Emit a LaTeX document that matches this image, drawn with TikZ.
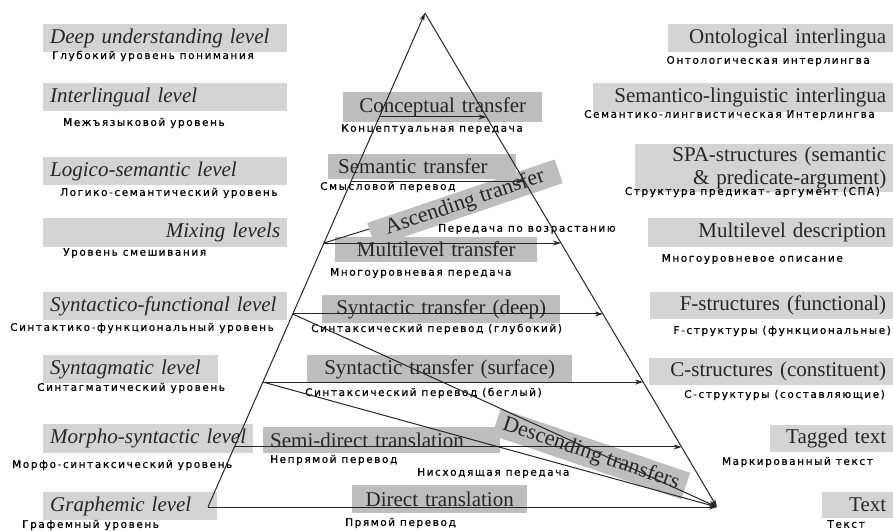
\documentclass[tikz,border=0pt]{standalone}
\usepackage{fontspec}
\setmainfont{Liberation Serif}
\newfontfamily\rufont[LetterSpace=15,FakeBold=0.6]{DejaVu Sans}
\usetikzlibrary{arrows.meta,calc}
\definecolor{lgray}{RGB}{212,212,212}
\definecolor{mgray}{RGB}{190,190,190}
\definecolor{ink}{RGB}{38,38,38}
\begin{document}
\begin{tikzpicture}[x=1pt,y=-1pt,
  en/.style={font=\fontsize{21}{22}\selectfont, text=ink, inner ysep=0pt, inner xsep=7pt, anchor=north west},
  lbox/.style={en, fill=lgray, font=\fontsize{21}{22}\selectfont\itshape},
  rbox/.style={en, fill=lgray, align=right},
  mbox/.style={en, fill=mgray},
  tbox/.style={en, anchor=center, fill=mgray, font=\fontsize{22}{23}\selectfont, inner xsep=4pt},
  ru/.style={font=\rufont\fontsize{10.5}{11}\selectfont, text=black, inner sep=0pt},
  ln/.style={draw=ink, line width=1pt},
  arr/.style={ln, -{Stealth[length=8pt,width=5pt]}}
]
\useasboundingbox (0,0) rectangle (893,530);

% ---------- left column ----------
\node[lbox, minimum width=244, minimum height=28, text width=230, align=left] (deep) at (43,24) {Deep understanding level};
\node[lbox, minimum width=244, minimum height=28, text width=230, align=left] (inter) at (43,83) {Interlingual level};
\node[lbox, minimum width=244, minimum height=28, text width=230, align=left] (logico) at (43,157) {Logico-semantic level};
\node[lbox, minimum width=244, minimum height=29, text width=230, align=right] (mixing) at (43,218) {Mixing levels};
\node[lbox, minimum width=244, minimum height=28, text width=230, align=left] (synfun) at (43,292) {Syntactico-functional level};
\node[lbox, minimum width=175, minimum height=28, text width=161, align=left] (syntag) at (43,355) {Syntagmatic level};
\node[lbox, minimum width=210, minimum height=29, text width=196, align=left] (morpho) at (43,424) {Morpho-syntactic level};
\node[lbox, minimum width=174, minimum height=28, text width=160, align=left] (graph) at (43,492) {Graphemic level};

\node[ru, anchor=west] (deepru) at (52,56) {Глубокий уровень понимания};
\node[ru, anchor=west] (interru) at (63,123) {Межъязыковой уровень};
\node[ru, anchor=west] (logicoru) at (60,193) {Логико-семантический уровень};
\node[ru, anchor=west] (mixingru) at (63,253) {Уровень смешивания};
\node[ru, anchor=west] (synfunru) at (10,328) {Синтактико-функциональный уровень};
\node[ru, anchor=west] (syntagru) at (37,388) {Синтагматический уровень};
\node[ru, anchor=west] (morphoru) at (12,465) {Морфо-синтаксический уровень};
\node[ru, anchor=west] (graphru) at (22,525) {Графемный уровень};

% ---------- right column ----------
\node[rbox, minimum width=225, minimum height=28, text width=211] (onto) at (668,24) {Ontological interlingua};
\node[rbox, minimum width=300, minimum height=29, text width=286] (semling) at (593,83) {Semantico-linguistic interlingua};
\node[rbox, minimum width=258, minimum height=48, text width=244] (spa) at (635,144) {SPA-structures (semantic\\[1pt] \& predicate-argument)};
\node[rbox, minimum width=245, minimum height=29, text width=231] (multid) at (648,218) {Multilevel description};
\node[rbox, minimum width=243, minimum height=27, text width=229] (fstr) at (650,292) {F-structures (functional)};
\node[rbox, minimum width=244, minimum height=27, text width=230] (cstr) at (649,358) {C-structures (constituent)};
\node[rbox, minimum width=123, minimum height=27, text width=109] (tagged) at (770,425) {Tagged text};
\node[rbox, minimum width=71, minimum height=26, text width=57] (textn) at (822,492) {Text};

\node[ru, anchor=east] (ontoru) at (870,61) {Онтологическая интерлингва};
\node[ru, anchor=east] (semlingru) at (875,115) {Семантико-лингвистическая Интерлингва};
\node[ru, anchor=east] (sparu) at (880,192) {Структура предикат- аргумент (СПА)};
\node[ru, anchor=east] (multidru) at (843,259) {Многоуровневое описание};
\node[ru, anchor=east] (fstrru) at (891,331) {F-структуры (функциональные)};
\node[ru, anchor=east] (cstrru) at (885,395) {С-структуры (составляющие)};
\node[ru, anchor=east] (taggedru) at (873,462) {Маркированный текст};
\node[ru, anchor=east] (textru) at (865,524) {Текст};

% ---------- middle boxes ----------
\node[mbox, minimum width=199, minimum height=30, text width=185, align=center] (concept) at (343,92) {Conceptual transfer};
\node[mbox, minimum width=182, minimum height=25, text width=168, align=left, inner xsep=10pt] (sem) at (328,154) {Semantic transfer};
\node[mbox, minimum width=202, minimum height=25, text width=188, align=center] (multi) at (335,237) {Multilevel transfer};
\node[mbox, minimum width=238, minimum height=28, text width=224, align=center] (deepst) at (322,295) {Syntactic transfer (deep)};
\node[mbox, minimum width=265, minimum height=28, text width=251, align=center] (surf) at (307,355) {Syntactic transfer (surface)};
\node[mbox, minimum width=237, minimum height=26, text width=223, align=left] (semid) at (263,427) {Semi-direct translation};
\node[mbox, minimum width=175, minimum height=28, text width=161, align=center] (direct) at (352,485) {Direct translation};

\node[ru, anchor=west] (conceptru) at (341,129) {Концептуальная передача};
\node[ru, anchor=west] (semru) at (320,187) {Смысловой перевод};
\node[ru, anchor=west] (multiru) at (330,273) {Многоуровневая передача};
\node[ru, anchor=west] (deepstru) at (311,329) {Синтаксический перевод (глубокий)};
\node[ru, anchor=west] (surfru) at (305,393) {Синтаксический перевод (беглый)};
\node[ru, anchor=west] (semidru) at (270,460) {Непрямой перевод};
\node[ru, anchor=west] (descru) at (417,473) {Нисходящая передача};
\node[ru, anchor=west] (directru) at (345,523) {Прямой перевод};

% ---------- triangle and levels ----------
\coordinate (A) at (425,13);
\coordinate (B) at (208,507);
\coordinate (C) at (717,507);
\coordinate (l1) at ($(A)!0.2105!(B)$); \coordinate (r1) at ($(A)!0.2105!(C)$);
\coordinate (l2) at ($(A)!0.3401!(B)$); \coordinate (r2) at ($(A)!0.3401!(C)$);
\coordinate (l3) at ($(A)!0.4656!(B)$); \coordinate (r3) at ($(A)!0.4656!(C)$);
\coordinate (l4) at ($(A)!0.6093!(B)$); \coordinate (r4) at ($(A)!0.6093!(C)$);
\coordinate (l5) at ($(A)!0.7470!(B)$); \coordinate (r5) at ($(A)!0.7470!(C)$);
\coordinate (l6) at ($(A)!0.8785!(B)$); \coordinate (r6) at ($(A)!0.8785!(C)$);

% ascending transfer (under its box)
\draw[arr] (l3) -- (r2);
\node[tbox, rotate=18.7, minimum width=198, minimum height=25] (asc) at (465,203) {Ascending transfer};
\node[ru, anchor=west] (ascru) at (438,229) {Передача по возрастанию};
\node[tbox, rotate=-18.7, minimum width=200, minimum height=28] (desc) at (591,454) {Descending transfers};

\draw[arr] (B) -- (A);
\draw[arr] (A) -- (C);
\draw[arr] (B) -- (C);
\draw[arr] (l1) -- (r1);
\draw[arr] (l2) -- (r2);
\draw[arr] (l3) -- (r3);
\draw[arr] (l4) -- (r4);
\draw[arr] (l5) -- (r5);
\draw[arr] (l6) -- (r6);
\draw[arr] (l4) -- (C);
\draw[arr] (l5) -- (C);
\end{tikzpicture}
\end{document}
